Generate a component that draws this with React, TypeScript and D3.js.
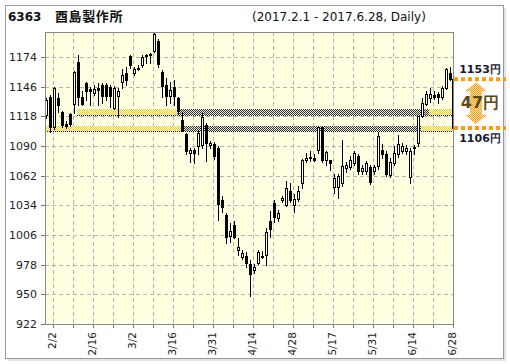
import React from "react";
import * as d3 from "d3";

const days: string[] = [
  "2/1","2/2","2/3","2/6","2/7","2/8","2/9","2/10","2/13","2/14","2/15","2/16","2/17","2/20","2/21","2/22","2/23","2/24","2/27","2/28",
  "3/1","3/2","3/3","3/6","3/7","3/8","3/9","3/10","3/13","3/14","3/15","3/16","3/17","3/21","3/22","3/23","3/24","3/27","3/28","3/29","3/30","3/31",
  "4/3","4/4","4/5","4/6","4/7","4/10","4/11","4/12","4/13","4/14","4/17","4/18","4/19","4/20","4/21","4/24","4/25","4/26","4/27","4/28",
  "5/1","5/2","5/8","5/9","5/10","5/11","5/12","5/15","5/16","5/17","5/18","5/19","5/22","5/23","5/24","5/25","5/26","5/29","5/30","5/31",
  "6/1","6/2","6/5","6/6","6/7","6/8","6/9","6/12","6/13","6/14","6/15","6/16","6/19","6/20","6/21","6/22","6/23","6/26","6/27","6/28",
];

const open: number[] = [
  1119,1136,1108,1135,1122,1110.5,1120,1130,1169,1136,1149,1144,1140,1145,1148,1148,1146,1126,1137,1150,
  1159,1175,1159,1164,1166,1175,1176,1180,1189,1160,1148,1137,1146,1135,1115,1101,1083,1086,1090,1091,1110,1091,
  1092,1088,1039,1025,1005,1015,992,985,986,979,973,980,985,987,1019,1036,1022,1039,1034,1048,
  1034,1040,1055,1077,1079,1079,1086,1108,1077,1077,1051,1051,1055,1069,1070,1074,1081,1066,1066,1070,
  1066,1071,1086,1082,1063,1074,1082,1085,1085,1061,1089,1093,1118,1130,1135,1138,1139,1136,1145,1159,
];
const high: number[] = [
  1135,1138,1146,1140,1123,1114,1121,1161,1176,1142,1150,1146,1148,1149,1149,1149,1148,1147,1145,1163,
  1165,1176,1165,1166,1176,1177,1178,1197,1191,1162,1154,1150,1152,1136,1122,1102,1088,1088,1104,1121,1112,1095,
  1094,1090,1043,1027,1017,1019,1003,992,990,982,979,992,991,1013,1029,1039,1030,1043,1057,1055,
  1045,1052,1078,1083,1085,1082,1108,1108,1085,1077,1064,1064,1096,1075,1081,1085,1082,1072,1076,1072,
  1072,1103,1092,1085,1079,1090,1100,1093,1091,1088,1091,1118,1135,1142,1145,1142,1141,1147,1164,1165,
];
const low: number[] = [
  1116,1103,1106,1122,1108,1107,1109,1121,1129,1129,1133,1129,1138,1129,1131,1133,1127,1125,1117,1145,
  1148,1164,1157,1162,1165,1168,1168,1179,1165,1136,1129,1131,1129,1120,1104,1082,1075,1074,1082,1088,1076,1088,
  1078,1020,1028,998,999,1003,987,983,976,948,970,979,984,978,1004,1018,1019,1037,1033,1037,
  1028,1038,1050,1075,1076,1076,1083,1075,1072,1067,1046,1041,1052,1065,1068,1072,1064,1064,1064,1054,
  1064,1068,1079,1062,1061,1072,1080,1083,1082,1055,1082,1090,1117,1129,1132,1134,1131,1134,1144,1152,
];
const close: number[] = [
  1133,1108,1145,1129,1110,1109,1111,1160,1136,1130,1142,1142,1144,1143,1137,1137,1137,1145,1142,1157,
  1152,1166,1163,1163,1174,1176,1177,1196,1167,1147,1137,1143,1137,1123,1105,1085,1086,1083,1102,1117,1093,1093,
  1081,1035,1032,1004,1010,1004,995,989,980,969,976,990,986,1009,1012,1023,1027,1041,1050,1039,
  1040,1048,1077,1079,1080,1077,1108,1077,1084,1074,1060,1062,1071,1072,1077,1083,1066,1069,1074,1056,
  1070,1099,1082,1064,1075,1083,1092,1090,1088,1085,1088,1118,1131,1139,1139,1136.5,1136,1145,1163,1153,
];

const yTicks: number[] = [922, 950, 978, 1006, 1034, 1062, 1090, 1118, 1146, 1174];
const xLabelDays: string[] = ["2/2","2/16","3/2","3/16","3/31","4/14","4/28","5/17","5/31","6/14","6/28"];
const gridEvery = 5;

// price bands: [top price, bottom price]
const bandUpper: [number, number] = [1124.7, 1119.6];
const bandLower: [number, number] = [1108.9, 1103.8];
// segments: [start day, end day (exclusive), kind]
const upperSegments: [string, string | null, string][] = [
  ["2/13", "3/21", "yel"], ["3/21", "6/21", "dark"], ["6/21", null, "yel"],
];
const lowerSegments: [string, string | null, string][] = [
  ["2/1", "3/22", "yel"], ["3/22", "6/19", "dark"], ["6/19", null, "yel"],
];

const lastPrice = 1153;
const refPrice = 1106;

export default function App() {
  const W = 510, H = 364;
  const L = 45, R = 453, T = 32, B = 324;
  const x = d3.scaleBand<string>().domain(days).range([L, R]).paddingInner(0).paddingOuter(0);
  const y = d3.scaleLinear().domain([922, 1197.6]).range([B, T]);
  const bw = x.bandwidth();
  const segX = (d: string | null) => (d === null ? R : (x(d) as number));

  const gridIdx = d3.range(1, days.length, gridEvery);
  const font = "'DejaVu Sans', Verdana, sans-serif";

  const bands = [
    { p: bandUpper, segs: upperSegments, start: x("2/13") as number },
    { p: bandLower, segs: lowerSegments, start: x("2/1") as number },
  ];

  const yl = y(lastPrice), yr = y(refPrice);
  const ax = 476;
  const aTop = yl + 3, aBot = yr - 5;
  const arrowPath = [
    `M${ax},${aTop}`, `L${ax + 11},${aTop + 9}`, `L${ax + 6},${aTop + 9}`,
    `L${ax + 6},${aBot - 9}`, `L${ax + 11},${aBot - 9}`, `L${ax},${aBot}`,
    `L${ax - 11},${aBot - 9}`, `L${ax - 6},${aBot - 9}`, `L${ax - 6},${aTop + 9}`,
    `L${ax - 11},${aTop + 9}`, "Z",
  ].join(" ");

  return (
    <svg width={W} height={H} style={{ position: "absolute", left: 0, top: 0 }} shapeRendering="crispEdges">
      <defs>
        <pattern id="yel" width="2" height="2" patternUnits="userSpaceOnUse">
          <rect width="2" height="2" fill="#ffffff" />
          <rect x="0" y="0" width="1" height="1" fill="#f4cf10" />
          <rect x="1" y="1" width="1" height="1" fill="#f4cf10" />
        </pattern>
        <pattern id="dark" width="2" height="2" patternUnits="userSpaceOnUse">
          <rect width="2" height="2" fill="#e8e8dc" />
          <rect x="0" y="0" width="1" height="1" fill="#333" />
          <rect x="1" y="1" width="1" height="1" fill="#333" />
        </pattern>
        <pattern id="org" width="2" height="2" patternUnits="userSpaceOnUse">
          <rect width="2" height="2" fill="#ffe2b0" />
          <rect x="0" y="0" width="1" height="1" fill="#ff9c1a" />
          <rect x="1" y="1" width="1" height="1" fill="#ff9c1a" />
        </pattern>
      </defs>
      <rect x={0} y={0} width={W} height={H} fill="#fff" />
      <rect x={7.5} y={7.5} width={498} height={353} fill="#e4e4e4" stroke="none" />
      <rect x={5.5} y={5.5} width={498} height={353} fill="#fff" stroke="#999" />

      {/* title */}
      <text x={8} y={21} fontFamily={font} fontWeight="bold" fontSize={12} fill="#111">6363</text>
      <text x={55} y={21} fontFamily="'Noto Sans CJK JP', sans-serif" fontWeight="bold" fontSize={13} fill="#111" letterSpacing={0.6}>酉島製作所</text>
      <text x={252} y={21} fontFamily={font} fontSize={12} fill="#111">(2017.2.1 - 2017.6.28, Daily)</text>

      {/* plot bg */}
      <rect x={L} y={T} width={R - L} height={B - T} fill="#ffffe2" />

      {/* grid */}
      {yTicks.slice(1).map((v) => (
        <line key={"hy" + v} x1={L} x2={R} y1={Math.round(y(v)) + 0.5} y2={Math.round(y(v)) + 0.5}
          stroke="#b4b4b4" strokeDasharray="4,3" />
      ))}
      {gridIdx.filter((i) => i < days.length - 1).map((i) => {
        const gx = Math.round((x(days[i]) as number) + bw) + 0.5;
        return <line key={"vx" + i} x1={gx} x2={gx} y1={T} y2={B} stroke="#b4b4b4" strokeDasharray="4,3" />;
      })}

      {/* bands */}
      {bands.map((b, bi) => {
        const y0 = Math.round(y(b.p[0]));
        const y1 = Math.round(y(b.p[1]));
        return (
          <g key={"band" + bi}>
            {b.segs.map((s, si) => (
              <rect key={si} x={segX(s[0])} y={y0} width={segX(s[1]) - segX(s[0])} height={y1 - y0}
                fill={`url(#${s[2]})`} />
            ))}
            <line x1={b.start} x2={R + 1} y1={y1 + 0.5} y2={y1 + 0.5} stroke="#111" strokeDasharray="1,1" />
          </g>
        );
      })}

      {/* candles */}
      {days.map((d, i) => {
        const c0 = x(d) as number;
        const o = open[i], c = close[i];
        const up = c >= o;
        const top = Math.round(y(Math.max(o, c)));
        const bot = Math.round(y(Math.min(o, c)));
        const h = Math.max(1, bot - top);
        return (
          <g key={d}>
            <line x1={c0 + 1.5} x2={c0 + 1.5} y1={Math.round(y(high[i]))} y2={Math.round(y(low[i])) + 1} stroke="#000" />
            <rect x={c0 + 0.5} y={top + 0.5} width={2} height={h} fill={up ? "#fff" : "#000"} stroke="#000" />
          </g>
        );
      })}

      {/* measurement line */}
      <line x1={R - 0.5} x2={R - 0.5} y1={Math.round(yl)} y2={Math.round(yr)} stroke="#000" />

      {/* plot frame */}
      <rect x={L + 0.5} y={T + 0.5} width={R - L} height={B - T} fill="none" stroke="#888" />

      {/* y axis */}
      {yTicks.map((v) => {
        const ty = Math.round(y(v)) + 0.5;
        return (
          <g key={"yt" + v}>
            <line x1={L - 4} x2={L} y1={ty} y2={ty} stroke="#777" />
            <text x={37} y={ty} dy="0.36em" textAnchor="end" fontFamily={font} fontSize={11} fill="#222">{v}</text>
          </g>
        );
      })}

      {/* x axis */}
      {gridIdx.map((i) => {
        const gx = Math.round((x(days[i]) as number) + bw) + 0.5;
        return <line key={"xt" + i} x1={gx} x2={gx} y1={B} y2={B + 4} stroke="#777" />;
      })}
      {xLabelDays.map((d) => {
        const gx = (x(d) as number) + bw;
        return (
          <text key={"xl" + d} transform={`translate(${gx},332) rotate(-90)`} dy="0.28em" textAnchor="end"
            fontFamily={font} fontSize={10.5} fill="#222">{d}</text>
        );
      })}

      {/* right-side annotation */}
      <line x1={R + 1} x2={506} y1={yl} y2={yl} stroke="#ff9a10" strokeWidth={4} strokeDasharray="4,3" shapeRendering="auto" />
      <line x1={R + 1} x2={506} y1={yr - 1} y2={yr - 1} stroke="#ff9a10" strokeWidth={4} strokeDasharray="4,3" shapeRendering="auto" />
      <path d={arrowPath} fill="url(#org)" shapeRendering="auto" />
      <text x={480} y={Math.round(yl) - 6} textAnchor="middle" fontFamily={font} fontWeight="bold" fontSize={11} fill="#1a1a30">{lastPrice}円</text>
      <text x={480} y={Math.round(yr) + 13} textAnchor="middle" fontFamily={font} fontWeight="bold" fontSize={11} fill="#1a1a30">{refPrice}円</text>
      <text x={480} y={108} textAnchor="middle" fontFamily={font} fontWeight="bold" fontSize={16} fill="#5a4a14">{lastPrice - refPrice}円</text>
    </svg>
  );
}
